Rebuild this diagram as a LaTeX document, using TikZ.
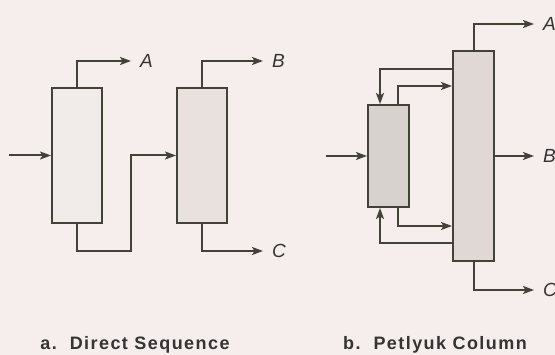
\documentclass[tikz,border=0pt]{standalone}
\usepackage{fontspec}
\setsansfont{Liberation Sans}
\usepackage{tikz}
\usetikzlibrary{arrows.meta, positioning}
\definecolor{cbg}{RGB}{246,238,236}
\definecolor{cline}{RGB}{66,66,56}
\definecolor{ctext}{RGB}{52,52,52}
\definecolor{cone}{RGB}{241,235,233}
\definecolor{ctwo}{RGB}{232,225,222}
\definecolor{cpre}{RGB}{216,210,206}
\definecolor{cmain}{RGB}{223,216,213}

\begin{document}
\begin{tikzpicture}[
  x=1pt, y=-1pt,
  node distance = 9pt,
  col/.style    = {rectangle, draw=cline, line width=2pt, fill=#1,
                   inner sep=0pt},
  arr/.style    = {-{Stealth[length=11pt, width=8pt, inset=2.5pt]},
                   line width=2pt, draw=cline},
  prod/.style   = {inner sep=0pt, text=ctext,
                   font=\sffamily\itshape\fontsize{19}{19}\selectfont},
  captxt/.style = {inner sep=0pt, anchor=base, text=ctext,
                   font=\sffamily\bfseries\fontsize{18}{18}\selectfont
                        \addfontfeatures{LetterSpace=8}},
]
\fill[cbg] (0,0) rectangle (555,355);
\useasboundingbox (0,0) rectangle (555,355);
% a. direct sequence: two columns
\node[col=cone, minimum width=50pt, minimum height=135pt] (col1) at (77,155.5) {};
\node[col=ctwo, minimum width=50pt, minimum height=135pt, right=73pt of col1] (col2) {};
% b. petlyuk: prefractionator and main column
\node[col=cpre, minimum width=41pt, minimum height=102pt] (pre) at (388.5,156) {};
\node[col=cmain, minimum width=41pt, minimum height=210pt, right=42pt of pre] (main) {};
% free ends
\coordinate (f1) at (9,155.5);
\coordinate (a1) at (131,61);
\coordinate (j1) at (131,251);
\coordinate (b1) at (263,61);
\coordinate (c1) at (263,251);
\coordinate (f2) at (326,156);
\coordinate (a2) at (534,24);
\coordinate (b2) at (534,156);
\coordinate (c2) at (534,290);
\coordinate (vtop) at (398,86);
\coordinate (ltop) at (380,69);
\coordinate (lbot) at (398,226);
\coordinate (vbot) at (380,243);
% Product labels
\node[prod, right=of a1] (pa1) {A};
\node[prod, right=of b1] (pb1) {B};
\node[prod, right=of c1] (pc1) {C};
\node[prod, right=of a2] (pa2) {A};
\node[prod, right=of b2] (pb2) {B};
\node[prod, right=of c2] (pc2) {C};
% Arrows, left
\draw[arr] (f1) -- (col1.west);
\draw[arr] (col1.north) |- (a1);
\draw[arr] (col1.south) |- (j1) |- (col2.west);
\draw[arr] (col2.north) |- (b1);
\draw[arr] (col2.south) |- (c1);
% Arrows, right
\draw[arr] (f2) -- (pre.west);
\draw[arr] (main.north) |- (a2);
\draw[arr] (main.east |- b2) -- (b2);
\draw[arr] (main.south) |- (c2);
\draw[arr] (vtop |- pre.north) |- (vtop -| main.west);
\draw[arr] (ltop -| main.west) -| (ltop |- pre.north);
\draw[arr] (lbot |- pre.south) |- (lbot -| main.west);
\draw[arr] (vbot -| main.west) -| (vbot |- pre.south);
% Captions
\node[captxt] (capa) at (135,350) {a.~~Direct Sequence};
\node[captxt] (capb) at (435,350) {b.~~Petlyuk Column};
\end{tikzpicture}
\end{document}
